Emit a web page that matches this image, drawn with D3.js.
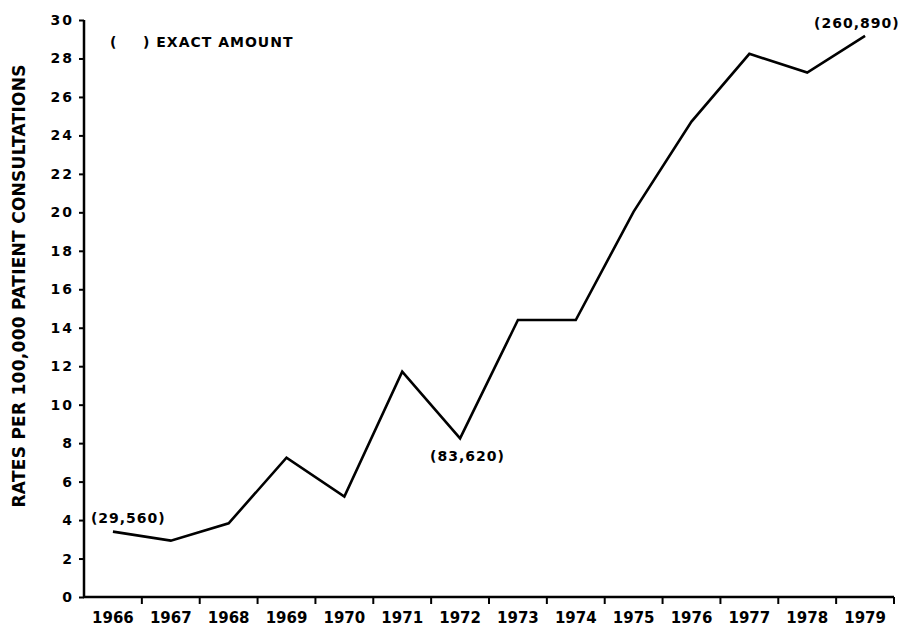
<!DOCTYPE html>
<html>
<head>
<meta charset="utf-8">
<script src="https://cdn.jsdelivr.net/npm/d3@7"></script>
<style>
  body { margin: 0; background: #fff; }
  svg { display: block; font-family: "DejaVu Sans", sans-serif; font-weight: bold; }
</style>
</head>
<body>
<figure id="chart" style="margin:0"></figure>
<script>
// data
const years = ["1966","1967","1968","1969","1970","1971","1972","1973","1974","1975","1976","1977","1978","1979"];
const rates = [3.4, 2.93, 3.83, 7.24, 5.22, 11.72, 8.25, 14.4, 14.4, 20.04, 24.72, 28.24, 27.27, 29.17];
const yTicks = [0, 2, 4, 6, 8, 10, 12, 14, 16, 18, 20, 22, 24, 26, 28, 30];
const notes = [
  { year: "1966", value: 3.4, text: "(29,560)" },
  { year: "1972", value: 8.25, text: "(83,620)" },
  { year: "1979", value: 29.17, text: "(260,890)" }
];

const width = 900, height = 627;
const mLeft = 84, mRight = 894, mTop = 20, mBottom = 597;

const svg = d3.select("#chart").append("svg")
  .attr("width", width)
  .attr("height", height);

const x = d3.scaleBand().domain(years).range([mLeft, mRight]).padding(0);
const y = d3.scaleLinear().domain([0, 30]).range([mBottom, mTop]);

// y axis
const yAxis = svg.append("g")
  .attr("transform", "translate(" + mLeft + ",0)")
  .call(d3.axisLeft(y).tickValues(yTicks).tickSize(5).tickPadding(5).tickSizeOuter(0))
  .attr("font-family", "DejaVu Sans")
  .attr("font-size", 14);
yAxis.select(".domain").attr("stroke", "#000").attr("stroke-width", 2.5)
  .attr("d", "M0," + (mBottom + 1) + "V" + mTop);
yAxis.selectAll(".tick line").attr("stroke", "#000").attr("stroke-width", 2);
yAxis.selectAll(".tick text")
  .style("letter-spacing", "2px")
  .attr("fill", "#000");

// x axis: labels in the middle of each year, ticks between years
const xAxis = svg.append("g")
  .attr("transform", "translate(0," + mBottom + ")")
  .call(d3.axisBottom(x).tickSize(0).tickPadding(15).tickSizeOuter(0))
  .attr("font-family", "DejaVu Sans")
  .attr("font-size", 15);
xAxis.select(".domain").attr("stroke", "#000").attr("stroke-width", 2.5)
  .attr("d", "M" + (mLeft - 1) + ",0H" + mRight);
xAxis.selectAll(".tick text")
  .attr("fill", "#000");

const edges = years.slice(1).map(d => x(d)).concat([x(years[years.length - 1]) + x.bandwidth()]);
xAxis.selectAll(".edge")
  .data(edges)
  .enter()
  .append("line")
  .attr("x1", d => d).attr("x2", d => d)
  .attr("y1", 0).attr("y2", 7)
  .attr("stroke", "#000").attr("stroke-width", 2);

// y title
svg.append("text")
  .attr("transform", "translate(25,286) rotate(-90)")
  .attr("text-anchor", "middle")
  .attr("textLength", 443)
  .attr("lengthAdjust", "spacing")
  .style("font-size", "17px")
  .text("RATES PER 100,000 PATIENT CONSULTATIONS");

// legend note
svg.append("text")
  .attr("x", 110).attr("y", 47)
  .style("font-size", "14px")
  .text("(");
svg.append("text")
  .attr("x", 143).attr("y", 47)
  .style("font-size", "14px")
  .style("letter-spacing", "1px")
  .text(") EXACT AMOUNT");

// the line
const line = d3.line()
  .x((d, i) => x(years[i]) + x.bandwidth() / 2)
  .y(d => y(d));

svg.append("path")
  .datum(rates)
  .attr("d", line)
  .attr("fill", "none")
  .attr("stroke", "#000")
  .attr("stroke-width", 2.6)
  .attr("stroke-linejoin", "miter");

// exact amounts
const noteOffsets = { "1966": [-22, -9], "1972": [-30, 23], "1979": [-51, -8] };
svg.selectAll(".note")
  .data(notes)
  .enter()
  .append("text")
  .attr("class", "note")
  .attr("x", d => x(d.year) + x.bandwidth() / 2 + noteOffsets[d.year][0])
  .attr("y", d => y(d.value) + noteOffsets[d.year][1])
  .style("font-size", "14px")
  .style("letter-spacing", "1px")
  .text(d => d.text);
</script>
</body>
</html>
